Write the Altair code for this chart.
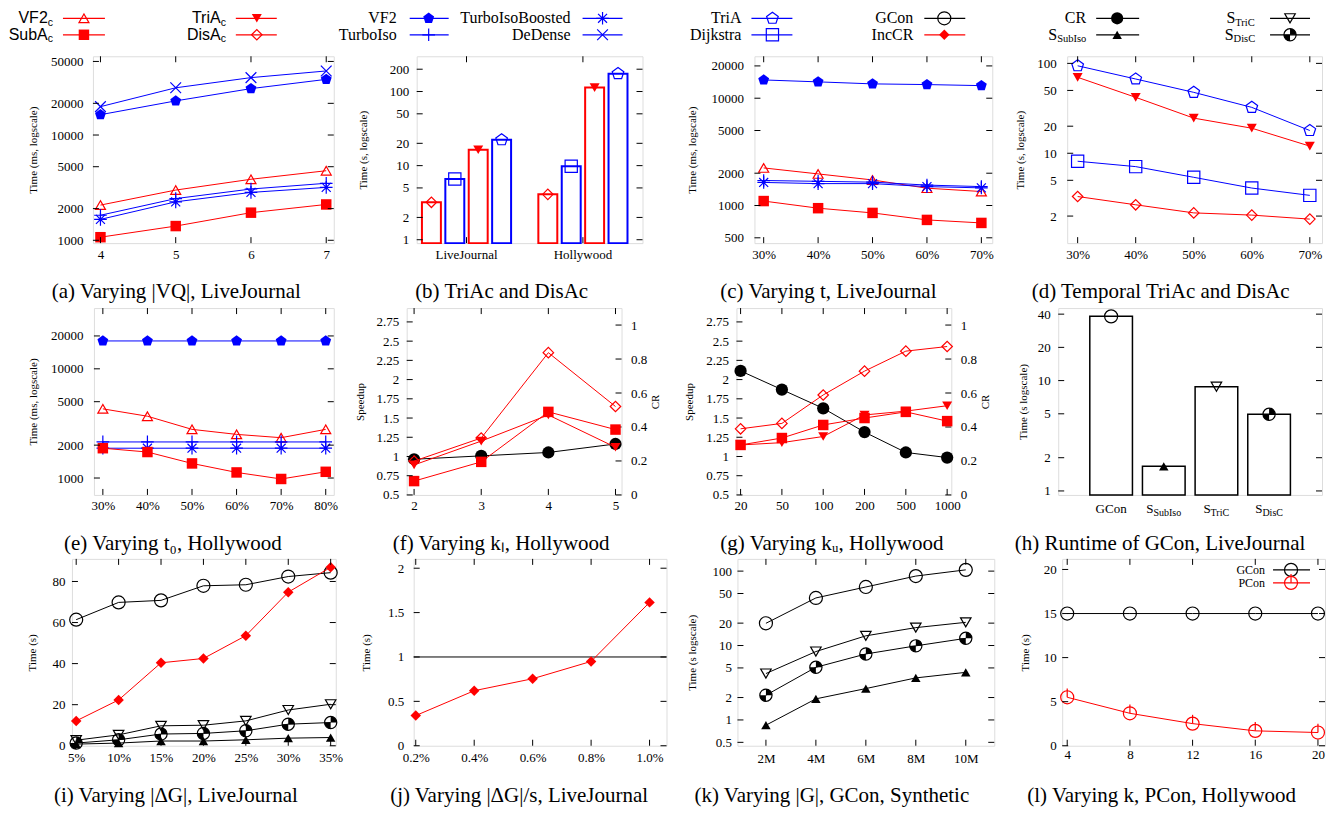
import altair as alt
import pandas as pd

SERIF = "Liberation Serif"
SANS = "Liberation Sans"
RED = "#ff0000"
BLUE = "#0000ff"
BLACK = "#000000"

# ---------------- data ----------------
# (a) Varying |VQ|, LiveJournal  (ms)
a_x = [4, 5, 6, 7]
a_VF2c = [2160, 3000, 3800, 4580]
a_SubAc = [1070, 1365, 1830, 2190]
a_VF2 = [15600, 21100, 27600, 33800]
a_TurboIso = [1730, 2490, 3070, 3480]
a_TurboIsoBoosted = [1580, 2320, 2850, 3180]
a_DeDense = [18600, 28100, 35100, 40600]
a_yticks = [1000, 2000, 5000, 10000, 20000, 50000]

# (b) TriAc and DisAc (s)
b_groups = ["LiveJournal", "Hollywood"]
b_series = ["DisAc", "Dijkstra", "TriAc", "TriA"]
b_LiveJournal = [3.2, 6.6, 16.4, 22.3]
b_Hollywood = [4.1, 9.8, 113, 174]
b_yticks = [1, 2, 5, 10, 20, 50, 100, 200]
b_floor = 0.9

# (c) Varying t, LiveJournal (ms)
c_x = [30, 40, 50, 60, 70]
c_VF2 = [14800, 14200, 13600, 13400, 13100]
c_VF2c = [2240, 1970, 1730, 1450, 1350]
c_TurboIso = [1710, 1680, 1650, 1550, 1500]
c_TurboIsoBoosted = [1640, 1600, 1600, 1500, 1460]
c_SubAc = [1100, 944, 853, 734, 688]
c_yticks = [500, 1000, 2000, 5000, 10000, 20000]

# (d) Temporal TriAc and DisAc (s)
d_x = [30, 40, 50, 60, 70]
d_TriA = [94, 67, 47.6, 32.4, 17.9]
d_TriAc = [70, 41.9, 24.6, 19, 12]
d_Dijkstra = [8.15, 7.1, 5.4, 4.1, 3.4]
d_DisAc = [3.3, 2.67, 2.17, 2.05, 1.85]
d_yticks = [2, 5, 10, 20, 50, 100]

# (e) Varying t0, Hollywood (ms)
e_x = [30, 40, 50, 60, 70, 80]
e_VF2 = [18000, 18000, 18000, 18000, 18000, 18000]
e_VF2c = [4300, 3680, 2790, 2510, 2340, 2790]
e_TurboIso = [2140, 2140, 2140, 2140, 2140, 2140]
e_TurboIsoBoosted = [1875, 1875, 1875, 1875, 1875, 1875]
e_SubAc = [1875, 1730, 1360, 1125, 980, 1140]
e_yticks = [1000, 2000, 5000, 10000, 20000]

# (f) Varying kl, Hollywood
f_x = [2, 3, 4, 5]
f_SubAc = [0.68, 0.93, 1.58, 1.35]
f_TriAc = [0.89, 1.20, 1.54, 1.12]
f_DisAc = [0.94, 1.24, 2.35, 1.65]
f_CR = [0.21, 0.23, 0.25, 0.30]
speedup_ticks = [0.5, 0.75, 1, 1.25, 1.5, 1.75, 2, 2.25, 2.5, 2.75]
cr_ticks = [0, 0.2, 0.4, 0.6, 0.8, 1]

# (g) Varying ku, Hollywood
g_x = ["20", "50", "100", "200", "500", "1000"]
g_SubAc = [1.15, 1.24, 1.41, 1.50, 1.58, 1.46]
g_TriAc = [1.15, 1.18, 1.26, 1.54, 1.59, 1.66]
g_DisAc = [1.36, 1.43, 1.80, 2.11, 2.37, 2.43]
g_CR = [0.73, 0.62, 0.51, 0.37, 0.25, 0.22]

# (h) Runtime of GCon, LiveJournal
h_cats = ["GCon", "S_SubIso", "S_TriC", "S_DisC"]
h_main = ["GCon", "S", "S", "S"]
h_sub = ["", "SubIso", "TriC", "DisC"]
h_time = [38.2, 1.67, 8.8, 4.95]
h_yticks = [1, 2, 5, 10, 20, 40]
h_floor = 0.92

# (i) Varying |dG|, LiveJournal
i_x = [5, 10, 15, 20, 25, 30, 35]
i_GCon = [61.4, 69.8, 70.8, 77.9, 78.4, 82.4, 84.3]
i_IncCR = [12.1, 22.3, 40.4, 42.5, 53.6, 74.8, 86.9]
i_S_TriC = [2.7, 5.3, 9.7, 10.0, 12.1, 17.4, 20.2]
i_S_DisC = [1.3, 2.9, 5.7, 6.0, 7.3, 10.5, 11.3]
i_S_SubIso = [0.8, 1.3, 2.3, 2.3, 2.9, 3.7, 4.0]
i_yticks = [0, 20, 40, 60, 80]

# (j) Varying |dG|/s, LiveJournal
j_x = [0.2, 0.4, 0.6, 0.8, 1.0]
j_IncCR = [0.34, 0.62, 0.755, 0.95, 1.615]
j_ref = [1.0]
j_yticks = [0, 0.5, 1, 1.5, 2]

# (k) Varying |G|, GCon, Synthetic
k_x = ["2M", "4M", "6M", "8M", "10M"]
k_GCon = [19.9, 43.6, 61.2, 85.8, 104]
k_S_TriC = [4.2, 8.3, 13.5, 17.4, 20.5]
k_S_DisC = [2.15, 5.1, 7.7, 9.9, 12.5]
k_S_SubIso = [0.85, 1.92, 2.64, 3.67, 4.36]
k_yticks = [0.5, 1, 2, 5, 10, 20, 50, 100]

# (l) Varying k, PCon, Hollywood
l_x = [4, 8, 12, 16, 20]
l_GCon = [15, 15, 15, 15, 15]
l_PCon = [5.5, 3.68, 2.51, 1.69, 1.5]
l_yticks = [0, 5, 10, 15, 20]

# top legend
leg_row1 = ["VF2c", "TriAc", "VF2", "TurboIsoBoosted", "TriA", "GCon", "CR", "S_TriC"]
leg_row2 = ["SubAc", "DisAc", "TurboIso", "DeDense", "Dijkstra", "IncCR", "S_SubIso", "S_DisC"]

# ---------------- styles ----------------
PENT = "M0,-1L0.951,-0.309L0.588,0.809L-0.588,0.809L-0.951,-0.309Z"
STAR = "M-1,0L1,0M0,-1L0,1M-0.71,-0.71L0.71,0.71M-0.71,0.71L0.71,-0.71"
PLUS = "M-1,0L1,0M0,-1L0,1"
XSH = "M-0.8,-0.8L0.8,0.8M-0.8,0.8L0.8,-0.8"
HALF = "M0,0L0,-1A1,1,0,0,1,1,0Z M0,0L0,1A1,1,0,0,1,-1,0Z"
VBAR = "M0,-1.35L0,0"


def P(shape, filled, size, color):
    return dict(shape=shape, filled=filled, size=size, color=color)


STYLE = {
    "VF2c": [P("triangle-up", False, 100, RED)],
    "SubAc": [P("square", True, 110, RED)],
    "TriAc": [P("triangle-down", True, 100, RED)],
    "DisAc": [P("diamond", False, 110, RED)],
    "VF2": [P(PENT, True, 130, BLUE)],
    "TurboIso": [P(PLUS, False, 160, BLUE)],
    "TurboIsoBoosted": [P(STAR, False, 160, BLUE)],
    "DeDense": [P(XSH, False, 180, BLUE)],
    "TriA": [P(PENT, False, 150, BLUE)],
    "Dijkstra": [P("square", False, 150, BLUE)],
    "GCon": [P("circle", False, 170, BLACK)],
    "IncCR": [P("diamond", True, 110, RED)],
    "CR": [P("circle", True, 150, BLACK)],
    "S_SubIso": [P("triangle-up", True, 90, BLACK)],
    "S_TriC": [P("triangle-down", False, 110, BLACK)],
    "S_DisC": [P(HALF, True, 150, BLACK), P("circle", False, 150, BLACK)],
    "PCon": [P("circle", False, 170, RED), P(VBAR, False, 170, RED)],
}
DISPLAY = {
    "VF2c": ("VF2", "c", SANS), "SubAc": ("SubA", "c", SANS),
    "TriAc": ("TriA", "c", SANS), "DisAc": ("DisA", "c", SANS),
    "S_TriC": ("S", "TriC", SERIF), "S_SubIso": ("S", "SubIso", SERIF),
    "S_DisC": ("S", "DisC", SERIF),
}
SUBW = {"c": 5.2, "TriC": 19.8, "SubIso": 29.0, "DisC": 21.5}

TL = 6  # inner tick length
H = 187
CAP1 = 236
CAP3 = 237
CAPFONT = 21
ONE = pd.DataFrame({"k": [0]})
NUM = "'' + datum.value"


def xaxis(vals, pad=5, expr=None):
    kw = dict(values=vals, ticks=False, tickSize=0, domain=False, grid=False,
              labelFont=SERIF, labelFontSize=13, labelColor=BLACK, labelPadding=pad,
              labelOverlap=False, labelFlush=False, labelAngle=0, title=None)
    if expr is not None:
        kw["labelExpr"] = expr
    return alt.Axis(**kw)


def yaxis(vals, title, tx, pad, orient="left"):
    return alt.Axis(values=vals, labelExpr=NUM, orient=orient, ticks=False, tickSize=0,
                    domain=False, grid=False, labelFont=SERIF, labelFontSize=13,
                    labelColor=BLACK, labelPadding=pad, labelOverlap=False, labelFlush=False,
                    title=title, titleFont=SERIF, titleFontSize=11, titleFontWeight="normal",
                    titleColor=BLACK, titleX=tx, titleY=H / 2, titleAngle=270,
                    titleAlign="center", titleBaseline="middle")


def series_layers(name, xs, ys, xenc, yenc, lw=1.0):
    df = pd.DataFrame({"x": xs, "y": ys, "i": list(range(len(xs)))})
    base = alt.Chart(df).encode(x=xenc, y=yenc)
    color = STYLE[name][0]["color"]
    out = [base.mark_line(color=color, strokeWidth=lw).encode(order=alt.Order("i:Q"))]
    for p in STYLE[name]:
        out.append(base.mark_point(shape=p["shape"], filled=p["filled"], size=p["size"],
                                   color=p["color"], opacity=1, strokeWidth=1.2))
    return out


def ytick_layers(vals, scale, axis, w, left=True, right=True):
    base = alt.Chart(pd.DataFrame({"y": vals})).encode(y=alt.Y("y:Q", scale=scale, axis=axis))
    out = []
    if left:
        out.append(base.mark_rule(color=BLACK, strokeWidth=1).encode(x=alt.value(0), x2=alt.value(TL)))
    if right:
        out.append(base.mark_rule(color=BLACK, strokeWidth=1).encode(x=alt.value(w - TL), x2=alt.value(w)))
    return out


def xtick_layers(vals, field, ftype, scale, axis):
    base = alt.Chart(pd.DataFrame({field: vals})).encode(
        x=alt.X(f"{field}:{ftype}", scale=scale, axis=axis))
    return [base.mark_rule(color=BLACK, strokeWidth=1).encode(y=alt.value(H - TL), y2=alt.value(H)),
            base.mark_rule(color=BLACK, strokeWidth=1).encode(y=alt.value(0), y2=alt.value(TL))]


def caption(text, w, dx, cy):
    return alt.Chart(ONE).mark_text(text=text, font=SERIF, fontSize=CAPFONT, align="center",
                                    baseline="middle", color=BLACK).encode(
        x=alt.value(w / 2 + dx), y=alt.value(cy))


def line_panel(w, xs, xkind, xscale, xvals, xexpr, yscale, yvals, ytitle, ytx, ypad,
               series, cap, cdx, cy, extra=None, hrules=None, xpad=5):
    ft = "Q" if xkind == "q" else "O"
    xax = xaxis(xvals, xpad, xexpr)
    yax = yaxis(yvals, ytitle, ytx, ypad)
    xenc = alt.X(f"x:{ft}", scale=xscale, axis=xax)
    yenc = alt.Y("y:Q", scale=yscale, axis=yax)
    layers = []
    if hrules is not None:
        layers.append(alt.Chart(pd.DataFrame({"y": hrules})).mark_rule(color=BLACK, strokeWidth=1).encode(
            y=alt.Y("y:Q", scale=yscale, axis=yax)))
    if extra is not None:
        layers += extra
    for name, ys in series:
        layers += series_layers(name, xs, ys, xenc, yenc)
    layers += ytick_layers(yvals, yscale, yax, w)
    layers += xtick_layers(xvals, "x", ft, xscale, xax)
    layers.append(caption(cap, w, cdx, cy))
    return alt.layer(*layers).properties(width=w, height=H)


def dual_panel(w, xs, xkind, xscale, xvals, left, right, ltx, rtx, lpad, rpad, cap, cdx, cy):
    ft = "Q" if xkind == "q" else "O"
    xax = xaxis(xvals, 5)
    xenc = alt.X(f"x:{ft}", scale=xscale, axis=xax)
    lscale = alt.Scale(domain=[0.5, 2.93], nice=False, zero=False)
    rscale = alt.Scale(domain=[0, 1.1], nice=False, zero=False)
    lax = yaxis(speedup_ticks, "Speedup", ltx, lpad)
    rax = yaxis(cr_ticks, "CR", rtx, rpad, orient="right")
    ly = alt.Y("y:Q", scale=lscale, axis=lax)
    ry = alt.Y("y:Q", scale=rscale, axis=rax)
    R = []
    for name, ys in right:
        R += series_layers(name, xs, ys, xenc, ry)
    R += ytick_layers(cr_ticks, rscale, rax, w, left=False, right=True)
    L = []
    for name, ys in left:
        L += series_layers(name, xs, ys, xenc, ly)
    L += ytick_layers(speedup_ticks, lscale, lax, w, left=True, right=False)
    L += xtick_layers(xvals, "x", ft, xscale, xax)
    L.append(caption(cap, w, cdx, cy))
    return alt.layer(alt.layer(*R), alt.layer(*L)).resolve_scale(y="independent").properties(width=w, height=H)


def spacer(w):
    return alt.Chart(ONE).mark_rect(opacity=0).encode(
        x=alt.value(0), x2=alt.value(w), y=alt.value(0), y2=alt.value(H)
    ).properties(width=w, height=H, view=alt.ViewBackground(stroke="transparent"))


PCT = "datum.value + '%'"

# ---------------- row 1 ----------------
A = line_panel(241, a_x, "q", alt.Scale(domain=[3.9, 7.1], nice=False, zero=False), a_x, None,
               alt.Scale(type="log", domain=[940, 56000], nice=False), a_yticks,
               "Time (ms, logscale)", -59, 10,
               [("VF2c", a_VF2c), ("SubAc", a_SubAc), ("VF2", a_VF2), ("TurboIso", a_TurboIso),
                ("TurboIsoBoosted", a_TurboIsoBoosted), ("DeDense", a_DeDense)],
               "(a) Varying |VQ|, LiveJournal", -37, CAP1)

# (b) grouped bars
BW = 226
b_rows = []
for g, vals in zip(b_groups, [b_LiveJournal, b_Hollywood]):
    for s, v in zip(b_series, vals):
        b_rows.append({"group": g, "series": s, "y": v, "y0": b_floor})
bdf = pd.DataFrame(b_rows)
bxs = alt.Scale(domain=b_groups, paddingInner=0.2, paddingOuter=0.07, align=0.2)
bxax = xaxis(b_groups, 5)
bx = alt.X("group:N", scale=bxs, axis=bxax)
bxo = alt.XOffset("series:N", scale=alt.Scale(domain=b_series, paddingInner=0.19, paddingOuter=0.085))
bys = alt.Scale(type="log", domain=[b_floor, 299], nice=False)
byax = yaxis(b_yticks, "Time (s, logscale)", -53, 8)
by = alt.Y("y:Q", scale=bys, axis=byax)
b_layers = [alt.Chart(bdf).mark_bar(fill="white", fillOpacity=1, strokeWidth=2, strokeOpacity=1).encode(
    x=bx, xOffset=bxo, y=by, y2=alt.Y2("y0:Q"),
    stroke=alt.Stroke("series:N", scale=alt.Scale(domain=b_series, range=[RED, BLUE, RED, BLUE]), legend=None))]
for s in b_series:
    sub = bdf[bdf["series"] == s]
    for p in STYLE[s]:
        b_layers.append(alt.Chart(sub).mark_point(shape=p["shape"], filled=p["filled"], size=p["size"],
                                                  color=p["color"], opacity=1, strokeWidth=1.2).encode(
            x=bx, xOffset=bxo, y=by))
b_layers += ytick_layers(b_yticks, bys, byax, BW)
b_layers += xtick_layers(b_groups, "group", "N", bxs, bxax)
b_layers.append(caption("(b) TriAc and DisAc", BW, -28, CAP1))
B = alt.layer(*b_layers).properties(width=BW, height=H)

C = line_panel(238, c_x, "q", alt.Scale(domain=[28.3, 72], nice=False, zero=False), c_x, PCT,
               alt.Scale(type="log", domain=[446, 24600], nice=False), c_yticks,
               "Time (ms, logscale)", -62, 11,
               [("VF2", c_VF2), ("VF2c", c_VF2c), ("TurboIso", c_TurboIso),
                ("TurboIsoBoosted", c_TurboIsoBoosted), ("SubAc", c_SubAc)],
               "(c) Varying t, LiveJournal", -45, CAP1)

D = line_panel(255, d_x, "q", alt.Scale(domain=[28.2, 72.1], nice=False, zero=False), d_x, PCT,
               alt.Scale(type="log", domain=[1.0, 120], nice=False), d_yticks,
               "Time (s, logscale)", -47, 11,
               [("TriA", d_TriA), ("TriAc", d_TriAc), ("Dijkstra", d_Dijkstra), ("DisAc", d_DisAc)],
               "(d) Temporal TriAc and DisAc", -34, CAP1)

# ---------------- row 2 ----------------
E = line_panel(240, e_x, "q", alt.Scale(domain=[28, 81.8], nice=False, zero=False), e_x, PCT,
               alt.Scale(type="log", domain=[700, 36000], nice=False), e_yticks,
               "Time (ms, logscale)", -60, 11,
               [("VF2", e_VF2), ("VF2c", e_VF2c), ("TurboIso", e_TurboIso),
                ("TurboIsoBoosted", e_TurboIsoBoosted), ("SubAc", e_SubAc)],
               "(e) Varying t\u2080, Hollywood", -41, CAP1)

F = dual_panel(215, f_x, "q", alt.Scale(domain=[1.89, 5.09], nice=False, zero=False), f_x,
               [("SubAc", f_SubAc), ("TriAc", f_TriAc), ("DisAc", f_DisAc)], [("CR", f_CR)],
               -46, 34, 8, 9, "(f) Varying k\u2097, Hollywood", -13, CAP1)

G = dual_panel(215, g_x, "o", alt.Scale(type="point", domain=g_x, padding=0.1), g_x,
               [("SubAc", g_SubAc), ("TriAc", g_TriAc), ("DisAc", g_DisAc)], [("CR", g_CR)],
               -47, 34, 8, 9, "(g) Varying k\u1d64, Hollywood", -12, CAP1)

HW = 264
hdf = pd.DataFrame({"cat": h_cats, "y": h_time, "y0": [h_floor] * len(h_cats)})
hxs = alt.Scale(domain=h_cats, paddingInner=0.19, paddingOuter=0.6)
hys = alt.Scale(type="log", domain=[h_floor, 45.4], nice=False)
hx = alt.X("cat:N", scale=hxs, axis=None)
hyax = yaxis(h_yticks, "Time (s logscale)", -35, 8)
hy = alt.Y("y:Q", scale=hys, axis=hyax)
h_layers = [alt.Chart(hdf).mark_bar(fill="white", fillOpacity=1, stroke=BLACK, strokeWidth=1.5,
                                    strokeOpacity=1).encode(x=hx, y=hy, y2=alt.Y2("y0:Q"))]
for idx, cat in enumerate(h_cats):
    sub = hdf.iloc[[idx]]
    for p in STYLE[cat]:
        h_layers.append(alt.Chart(sub).mark_point(shape=p["shape"], filled=p["filled"], size=p["size"],
                                                  color=p["color"], opacity=1, strokeWidth=1.2).encode(x=hx, y=hy))
h_subw = {"": 0, "SubIso": 27.8, "TriC": 18.9, "DisC": 20.6}
for idx, cat in enumerate(h_cats):
    sub = hdf.iloc[[idx]]
    m, s = h_main[idx], h_sub[idx]
    if not s:
        h_layers.append(alt.Chart(sub).mark_text(text=m, font=SERIF, fontSize=13, align="center",
                                                 baseline="middle", color=BLACK).encode(x=hx, y=alt.value(H + 14)))
    else:
        tot = 7.2 + h_subw[s]
        h_layers.append(alt.Chart(sub).mark_text(text=m, font=SERIF, fontSize=13, align="left",
                                                 baseline="middle", dx=-tot / 2, color=BLACK).encode(x=hx, y=alt.value(H + 14)))
        h_layers.append(alt.Chart(sub).mark_text(text=s, font=SERIF, fontSize=10, align="left",
                                                 baseline="middle", dx=-tot / 2 + 7.2, color=BLACK).encode(x=hx, y=alt.value(H + 18)))
h_layers += ytick_layers(h_yticks, hys, hyax, HW)
h_layers.append(caption("(h) Runtime of GCon, LiveJournal", HW, -30, CAP1))
HH = alt.layer(*h_layers).properties(width=HW, height=H)

# ---------------- row 3 ----------------
I = line_panel(264, i_x, "q", alt.Scale(domain=[4.5, 35.6], nice=False, zero=False), i_x, PCT,
               alt.Scale(domain=[0, 91], nice=False, zero=False), i_yticks,
               "Time (s)", -39, 7,
               [("GCon", i_GCon), ("IncCR", i_IncCR), ("S_TriC", i_S_TriC),
                ("S_DisC", i_S_DisC), ("S_SubIso", i_S_SubIso)],
               "(i) Varying |\u0394G|, LiveJournal", -28, CAP3, xpad=6)

JW = 253
J = line_panel(JW, j_x, "q", alt.Scale(domain=[0.193, 1.058], nice=False, zero=False), j_x,
               "format(datum.value, '.1f') + '%'", alt.Scale(domain=[0, 2.105], nice=False, zero=False),
               j_yticks, "Time (s)", -47, 10,
               [("IncCR", j_IncCR)], "(j) Varying |\u0394G|/s, LiveJournal", -21, CAP3,
               hrules=j_ref, xpad=6)

K = line_panel(257, k_x, "o", alt.Scale(type="point", domain=k_x, padding=0.57), k_x, None,
               alt.Scale(type="log", domain=[0.45, 146], nice=False), k_yticks,
               "Time (s logscale)", -45, 6,
               [("GCon", k_GCon), ("S_TriC", k_S_TriC), ("S_DisC", k_S_DisC), ("S_SubIso", k_S_SubIso)],
               "(k) Varying |G|, GCon, Synthetic", -34, CAP3, xpad=7)

LW = 263
l_leg = []
for r, name in enumerate(["GCon", "PCon"]):
    y = 11 + 13 * r
    col = STYLE[name][0]["color"]
    l_leg.append(alt.Chart(ONE).mark_rule(color=col, strokeWidth=1.3).encode(
        x=alt.value(211), x2=alt.value(248), y=alt.value(y)))
    for p in STYLE[name]:
        l_leg.append(alt.Chart(ONE).mark_point(shape=p["shape"], filled=p["filled"], size=p["size"],
                                               color=p["color"], opacity=1, strokeWidth=1.2).encode(
            x=alt.value(229), y=alt.value(y)))
    l_leg.append(alt.Chart(ONE).mark_text(text=name, font=SERIF, fontSize=12, align="right",
                                          baseline="middle", color=BLACK).encode(x=alt.value(203), y=alt.value(y)))
L_ = line_panel(LW, l_x, "q", alt.Scale(domain=[3.68, 20.45], nice=False, zero=False), l_x, None,
                alt.Scale(domain=[0, 21.2], nice=False, zero=False), l_yticks,
                "Time (s)", -37, 6,
                [("GCon", l_GCon), ("PCon", l_PCon)],
                "(l) Varying k, PCon, Hollywood", -32, CAP3, extra=l_leg, xpad=3)

# ---------------- top legend ----------------
LEG_COLS = [(52, 62, 104, 83), (225, 235, 276, 256), (396, 409, 448, 428), (570, 582, 622, 602),
            (741, 751, 792, 772), (913, 924, 965, 944), (1086, 1096, 1139, 1117), (1255, 1270, 1310, 1290)]
LEG_Y = [8, 24.5]
LEG_W, LEG_H = 1316, 40


def legend_chart():
    layers = [alt.Chart(ONE).mark_rect(opacity=0).encode(
        x=alt.value(0), x2=alt.value(LEG_W), y=alt.value(0), y2=alt.value(LEG_H))]
    for r, names in enumerate([leg_row1, leg_row2]):
        y = LEG_Y[r]
        for c, name in enumerate(names):
            lr, l1, l2, mx = [v - 8 for v in LEG_COLS[c]]
            col = STYLE[name][0]["color"]
            layers.append(alt.Chart(ONE).mark_rule(color=col, strokeWidth=1.2).encode(
                x=alt.value(l1), x2=alt.value(l2), y=alt.value(y)))
            for p in STYLE[name]:
                layers.append(alt.Chart(ONE).mark_point(shape=p["shape"], filled=p["filled"], size=p["size"],
                                                        color=p["color"], opacity=1, strokeWidth=1.2).encode(
                    x=alt.value(mx), y=alt.value(y)))
            main, sub, font = DISPLAY.get(name, (name, "", SERIF))
            sw = SUBW.get(sub, 0)
            layers.append(alt.Chart(ONE).mark_text(text=main, font=font, fontSize=16, align="right",
                                                   baseline="middle", color=BLACK).encode(
                x=alt.value(lr - sw), y=alt.value(y)))
            if sub:
                layers.append(alt.Chart(ONE).mark_text(text=sub, font=font, fontSize=10.5, align="left",
                                                       baseline="middle", color=BLACK).encode(
                    x=alt.value(lr - sw), y=alt.value(y + 4.5)))
    return alt.layer(*layers).properties(width=LEG_W, height=LEG_H,
                                         view=alt.ViewBackground(stroke="transparent"))


row1 = alt.hconcat(spacer(84), A, spacer(83), B, spacer(112), C, spacer(75), D, spacing=0, bounds="flush")
row2 = alt.hconcat(spacer(85), E, spacer(73), F, spacer(115), G, spacer(107), HH, spacing=0, bounds="flush")
row3 = alt.hconcat(spacer(63), I, spacer(78), J, spacer(71), K, spacer(68), L_, spacing=0, bounds="flush")

chart = alt.vconcat(legend_chart(), row1, row2, row3, spacing=3).properties(
    padding={"left": 0, "top": 0, "right": 0, "bottom": 0}
).configure_view(stroke=BLACK, strokeWidth=1).configure(background="white")

chart.save("out.html", embed_options={"renderer": "svg", "actions": False})
